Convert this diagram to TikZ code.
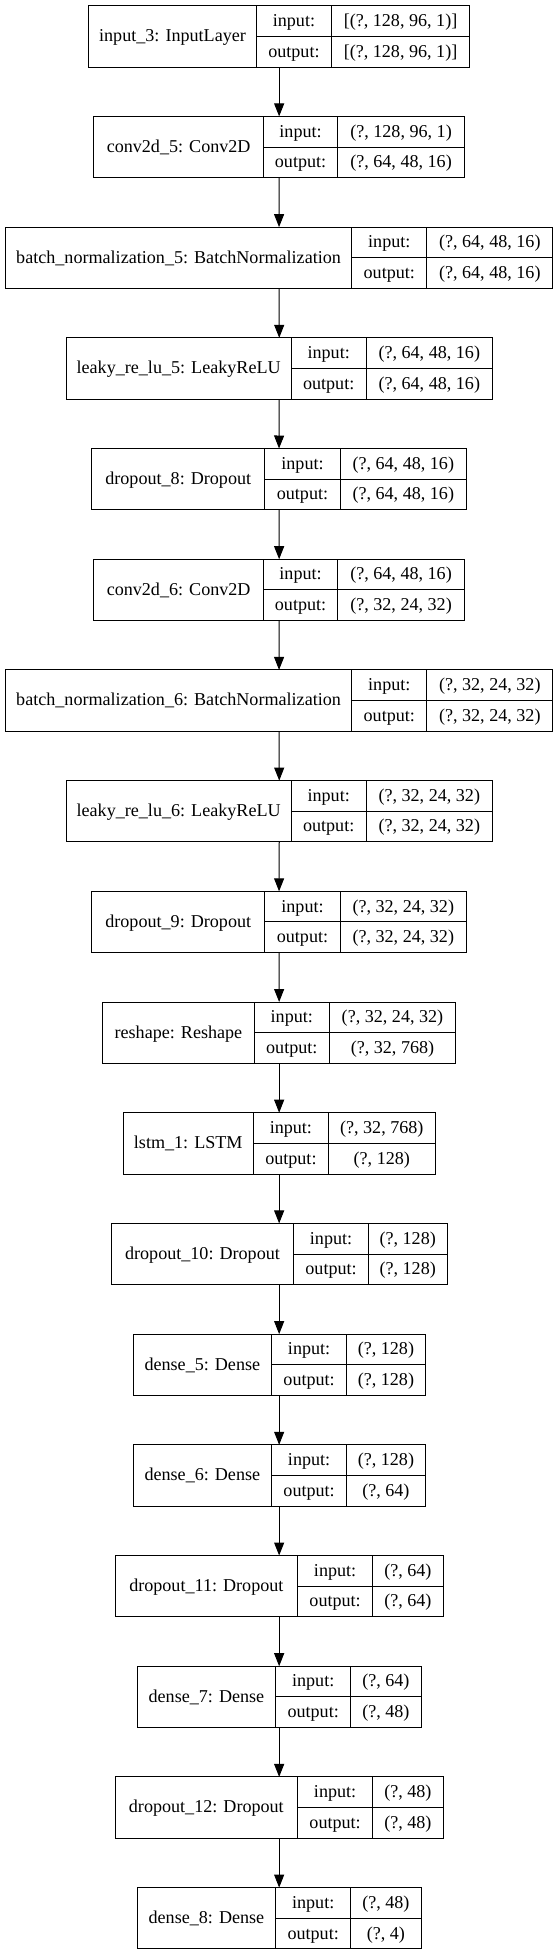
\documentclass[tikz,border=0pt]{standalone}
\usepackage{fontspec}
\setmainfont{Liberation Serif}
\usetikzlibrary{arrows.meta}
\tikzset{
  cell/.style={draw, line width=1pt, inner sep=0pt, outer sep=0pt, anchor=north west,
    text height=13pt, text depth=2.2pt, align=center},
  hull/.style={inner sep=0pt, outer sep=0pt, anchor=north west, minimum height=61.3pt},
  arr/.style={-{Triangle[length=13pt,width=10pt]}, line width=1pt}
}
\newcommand\layer[8]{%
  \pgfmathsetmacro\lyT{5.7+(#1-1)*110.7}%
  \pgfmathsetmacro\lyM{\lyT+30.65}%
  \pgfmathsetmacro\wA{#4-#3}%
  \pgfmathsetmacro\wB{#5-#4}%
  \pgfmathsetmacro\wC{#6-#5}%
  \pgfmathsetmacro\wT{#6-#3}%
  \node[hull, minimum width=\wT pt] (b#1) at (#3,\lyT) {};
  \node[cell, minimum width=\wA pt, minimum height=61.3pt] (n#1) at (#3,\lyT) {#2};
  \node[cell, minimum width=\wB pt, minimum height=30.65pt] (li#1) at (#4,\lyT) {input:};
  \node[cell, minimum width=\wB pt, minimum height=30.65pt] (lo#1) at (#4,\lyM) {output:};
  \node[cell, minimum width=\wC pt, minimum height=30.65pt] (vi#1) at (#5,\lyT) {#7};
  \node[cell, minimum width=\wC pt, minimum height=30.65pt] (vo#1) at (#5,\lyM) {#8};
}
\begin{document}
\begin{tikzpicture}[x=1pt, y=-1pt, font=\fontsize{18.1}{21}\selectfont]
\fill[white] (0,0) rectangle (559,1955);
\useasboundingbox (0,0) rectangle (559,1955);
\layer{1}{input\_3: InputLayer}{88.4}{256.7}{331.2}{469.9}{[(?, 128, 96, 1)]}{[(?, 128, 96, 1)]}
\layer{2}{conv2d\_5: Conv2D}{93.8}{263.5}{337.6}{464.5}{(?, 128, 96, 1)}{(?, 64, 48, 16)}
\layer{3}{batch\_normalization\_5: BatchNormalization}{5.2}{351.9}{426.7}{552.9}{(?, 64, 48, 16)}{(?, 64, 48, 16)}
\layer{4}{leaky\_re\_lu\_5: LeakyReLU}{66.0}{291.3}{366.1}{492.5}{(?, 64, 48, 16)}{(?, 64, 48, 16)}
\layer{5}{dropout\_8: Dropout}{91.6}{264.9}{340.1}{466.5}{(?, 64, 48, 16)}{(?, 64, 48, 16)}
\layer{6}{conv2d\_6: Conv2D}{93.8}{263.5}{337.6}{464.5}{(?, 64, 48, 16)}{(?, 32, 24, 32)}
\layer{7}{batch\_normalization\_6: BatchNormalization}{5.2}{351.9}{426.7}{552.9}{(?, 32, 24, 32)}{(?, 32, 24, 32)}
\layer{8}{leaky\_re\_lu\_6: LeakyReLU}{66.0}{291.3}{366.1}{492.5}{(?, 32, 24, 32)}{(?, 32, 24, 32)}
\layer{9}{dropout\_9: Dropout}{91.6}{264.9}{340.1}{466.5}{(?, 32, 24, 32)}{(?, 32, 24, 32)}
\layer{10}{reshape: Reshape}{102.7}{254.2}{329.4}{455.6}{(?, 32, 24, 32)}{(?, 32, 768)}
\layer{11}{lstm\_1: LSTM}{123.0}{253.5}{328.3}{435.3}{(?, 32, 768)}{(?, 128)}
\layer{12}{dropout\_10: Dropout}{111.2}{293.8}{368.3}{447.1}{(?, 128)}{(?, 128)}
\layer{13}{dense\_5: Dense}{133.0}{271.7}{346.5}{425.3}{(?, 128)}{(?, 128)}
\layer{14}{dense\_6: Dense}{133.0}{271.7}{346.5}{425.3}{(?, 128)}{(?, 64)}
\layer{15}{dropout\_11: Dropout}{115.0}{297.7}{372.5}{443.3}{(?, 64)}{(?, 64)}
\layer{16}{dense\_7: Dense}{137.3}{275.6}{350.8}{421.0}{(?, 64)}{(?, 48)}
\layer{17}{dropout\_12: Dropout}{115.0}{297.7}{372.5}{443.3}{(?, 48)}{(?, 48)}
\layer{18}{dense\_8: Dense}{137.3}{275.6}{350.8}{421.0}{(?, 48)}{(?, 4)}
\foreach \i [evaluate=\i as \j using int(\i+1)] in {1,...,17}
  \draw[arr] (b\i.south) -- (b\j.north);
\end{tikzpicture}
\end{document}
